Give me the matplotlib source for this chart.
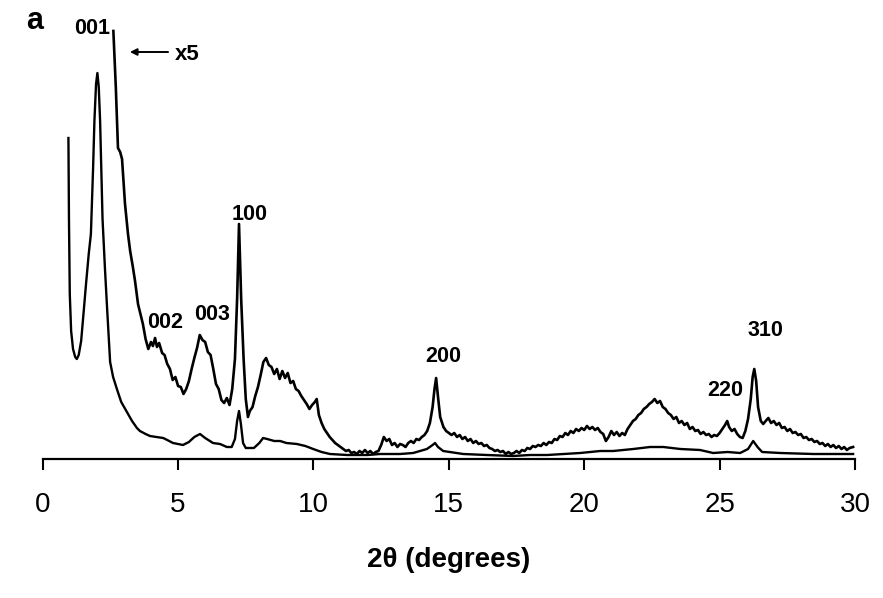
import matplotlib
matplotlib.use("Agg")
import matplotlib.pyplot as plt

# ---- data (2theta in degrees, intensity in arbitrary units) ----
base_theta = [0.95, 0.97, 1.00, 1.05, 1.12, 1.20, 1.26, 1.33, 1.42, 1.49, 1.60, 1.70, 1.78, 1.86,
              1.91, 1.97, 2.02, 2.07, 2.12, 2.21, 2.30, 2.38, 2.49, 2.60, 2.74, 2.90, 3.11, 3.30,
              3.48, 3.59, 3.80, 3.96, 4.20, 4.45, 4.60, 4.81, 5.00, 5.18, 5.40, 5.60, 5.81, 6.00,
              6.29, 6.55, 6.80, 6.98, 7.10, 7.18, 7.25, 7.32, 7.40, 7.50, 7.66, 7.80, 8.00, 8.14,
              8.29, 8.55, 8.77, 9.00, 9.39, 9.70, 9.99, 10.30, 10.61, 11.24, 12.00, 12.46, 13.20,
              13.68, 14.19, 14.40, 14.49, 14.60, 14.79, 15.53, 16.40, 17.37, 18.00, 18.63, 19.85,
              20.59, 21.07, 21.81, 22.43, 22.92, 23.55, 24.28, 24.76, 25.30, 25.76, 26.05, 26.24,
              26.40, 26.57, 27.24, 28.46, 29.93]
base_counts = [321, 240, 165, 128, 110, 102, 100, 104, 118, 140, 175, 205, 225, 290,
               338, 375, 386, 372, 338, 240, 190, 150, 97, 82, 70, 57, 47, 38,
               31, 28, 25, 23, 22, 21, 19, 16, 15, 14, 17, 22, 25, 21,
               16, 15, 12, 12, 20, 38, 48, 35, 16, 11, 11, 11, 16, 21,
               20, 18, 18, 16, 15, 13, 10, 7, 5, 4, 4, 5, 5,
               6, 10, 14, 16, 12, 8, 5, 4, 3, 4, 4, 6,
               8, 8, 10, 12, 12, 10, 9, 6, 7, 6, 10, 18,
               12, 7, 6, 5, 5]

x5_theta = [2.61, 2.70, 2.78, 2.86, 2.93, 3.04, 3.15, 3.23, 3.33, 3.41, 3.52, 3.60, 3.70, 3.80,
            3.90, 4.00, 4.07, 4.15, 4.22, 4.30, 4.41, 4.50, 4.60, 4.70, 4.80, 4.90, 5.00, 5.10,
            5.20, 5.30, 5.40, 5.50, 5.60, 5.70, 5.80, 5.90, 6.00, 6.10, 6.20, 6.30, 6.40, 6.50,
            6.60, 6.70, 6.80, 6.90, 7.00, 7.10, 7.18, 7.25, 7.33, 7.42, 7.50, 7.58, 7.65, 7.75,
            7.85, 7.95, 8.05, 8.15, 8.25, 8.35, 8.45, 8.55, 8.65, 8.75, 8.85, 8.95, 9.05, 9.15,
            9.25, 9.35, 9.45, 9.55, 9.65, 9.75, 9.85, 9.95, 10.05, 10.12, 10.20, 10.30, 10.40,
            10.50, 10.60, 10.70, 10.80, 10.90, 11.00, 11.10, 11.20, 11.30, 11.40, 11.50, 11.60,
            11.70, 11.80, 11.90, 12.00, 12.10, 12.20, 12.30, 12.40, 12.50, 12.60, 12.70, 12.80,
            12.90, 13.00, 13.10, 13.20, 13.30, 13.40, 13.50, 13.60, 13.70, 13.80, 13.90, 14.00,
            14.10, 14.20, 14.30, 14.40, 14.47, 14.53, 14.60, 14.68, 14.80, 14.90, 15.00, 15.10,
            15.20, 15.30, 15.40, 15.50, 15.60, 15.70, 15.80, 15.90, 16.00, 16.10, 16.20, 16.30,
            16.40, 16.50, 16.60, 16.70, 16.80, 16.90, 17.00, 17.10, 17.20, 17.30, 17.40, 17.50,
            17.60, 17.70, 17.80, 17.90, 18.00, 18.10, 18.20, 18.30, 18.40, 18.50, 18.60, 18.70,
            18.80, 18.90, 19.00, 19.10, 19.20, 19.30, 19.40, 19.50, 19.60, 19.70, 19.80, 19.90,
            20.00, 20.10, 20.20, 20.30, 20.40, 20.50, 20.60, 20.70, 20.80, 20.90, 21.00, 21.10,
            21.20, 21.30, 21.40, 21.50, 21.60, 21.70, 21.80, 21.90, 22.00, 22.10, 22.20, 22.30,
            22.40, 22.50, 22.60, 22.70, 22.80, 22.90, 23.00, 23.10, 23.20, 23.30, 23.40, 23.50,
            23.60, 23.70, 23.80, 23.90, 24.00, 24.10, 24.20, 24.30, 24.40, 24.50, 24.60, 24.70,
            24.80, 24.90, 25.00, 25.10, 25.20, 25.28, 25.35, 25.45, 25.55, 25.65, 25.75, 25.85,
            25.95, 26.05, 26.15, 26.22, 26.28, 26.35, 26.42, 26.52, 26.61, 26.70, 26.80, 26.90,
            27.00, 27.10, 27.20, 27.30, 27.40, 27.50, 27.60, 27.70, 27.80, 27.90, 28.00, 28.10,
            28.20, 28.30, 28.40, 28.50, 28.60, 28.70, 28.80, 28.90, 29.00, 29.10, 29.20, 29.30,
            29.40, 29.50, 29.60, 29.70, 29.80, 29.93]
x5_counts = [428, 372, 311, 307, 300, 255, 225, 208, 192, 178, 155, 146, 135, 120,
             110, 117, 113, 121, 112, 116, 106, 104, 95, 90, 79, 82, 73, 72,
             65, 70, 78, 90, 101, 111, 124, 119, 117, 107, 104, 90, 75, 70,
             59, 56, 61, 54, 70, 100, 160, 235, 160, 100, 60, 42, 48, 52,
             63, 72, 84, 97, 101, 94, 92, 85, 90, 80, 88, 81, 86, 76,
             78, 70, 68, 63, 59, 55, 50, 54, 57, 60, 44, 36, 30,
             26, 22, 19, 16, 14, 12, 10, 8, 9, 6, 7, 5,
             8, 6, 9, 6, 8, 5, 7, 8, 14, 22, 18, 20,
             14, 16, 12, 15, 14, 12, 16, 18, 16, 20, 19, 22,
             24, 28, 36, 52, 70, 81, 62, 42, 32, 28, 26, 24,
             26, 22, 24, 20, 22, 18, 20, 16, 18, 15, 16, 13,
             14, 11, 10, 8, 9, 7, 8, 5, 7, 5, 6, 8,
             6, 9, 8, 11, 10, 13, 12, 14, 13, 16, 14, 17,
             16, 20, 19, 23, 22, 26, 24, 28, 26, 30, 28, 31,
             29, 33, 30, 32, 29, 31, 27, 25, 18, 22, 28, 24,
             27, 23, 26, 24, 30, 34, 38, 40, 44, 46, 50, 52,
             55, 57, 60, 56, 58, 52, 50, 46, 44, 40, 42, 36,
             38, 34, 36, 30, 32, 28, 29, 25, 27, 24, 25, 22,
             24, 23, 26, 30, 34, 38, 32, 28, 30, 25, 22, 21,
             28, 40, 60, 82, 90, 78, 52, 38, 35, 38, 41, 36,
             38, 34, 36, 31, 32, 28, 30, 26, 27, 24, 25, 21,
             22, 19, 20, 17, 18, 15, 16, 13, 15, 12, 14, 11,
             13, 10, 12, 9, 11, 12]

peak_labels = ["001", "002", "003", "100", "200", "220", "310"]
peak_label_theta = [1.82, 4.52, 6.25, 7.66, 14.79, 25.20, 26.68]
peak_label_counts = [431, 136, 144, 244, 102, 69, 129]

tick_values = [0, 5, 10, 15, 20, 25, 30]

# ---- figure ----
W, H = 883, 598
fig = plt.figure(figsize=(W / 100, H / 100), dpi=100)
fig.patch.set_facecolor("white")

x0_px, x30_px, axis_py = 42.7, 855.0, 459.0
ax = fig.add_axes([x0_px / W, 1 - axis_py / H, (x30_px - x0_px) / W, axis_py / H])
ax.set_xlim(0, 30)
ax.set_ylim(0, 459)
ax.patch.set_alpha(0)

ax.plot(base_theta, base_counts, color="black", lw=1.7, clip_on=False)
ax.plot(x5_theta, x5_counts, color="black", lw=1.9, clip_on=False)

for s in ["left", "right", "top"]:
    ax.spines[s].set_visible(False)
ax.spines["bottom"].set_linewidth(1.6)
ax.set_yticks([])
ax.set_xticks(tick_values)
ax.set_xticklabels([str(v) for v in tick_values])
ax.tick_params(axis="x", direction="out", length=8, width=1.5, pad=16,
               labelsize=20, colors="black")
for lbl in ax.get_xticklabels():
    lbl.set_family(["Liberation Sans Narrow", "Liberation Sans"])

ax.set_xlabel("2θ (degrees)", fontsize=20, fontweight="bold",
              family=["Liberation Sans", "DejaVu Sans"])
ax.xaxis.label.set_va("center")
ax.xaxis.set_label_coords(0.5, (axis_py - 560) / axis_py)

lab_font = dict(fontsize=15.5, fontweight="bold", family=["Liberation Sans", "DejaVu Sans"],
                ha="center", va="center", color="black")
for t, x, y in zip(peak_labels, peak_label_theta, peak_label_counts):
    ax.text(x, y, t, **lab_font)

ax.annotate("", xy=(3.22, 407), xytext=(4.63, 407),
            arrowprops=dict(arrowstyle="-|>", lw=1.4, color="black",
                            mutation_scale=10, shrinkA=0, shrinkB=0))
ax.text(5.35, 404, "x5", **{**lab_font, "fontsize": 16})

ax.text(-0.28, 438, "a", fontsize=22, fontweight="bold",
        family=["Liberation Sans", "DejaVu Sans"], ha="center", va="center")

fig.savefig("out.png", dpi=100, facecolor="white")
